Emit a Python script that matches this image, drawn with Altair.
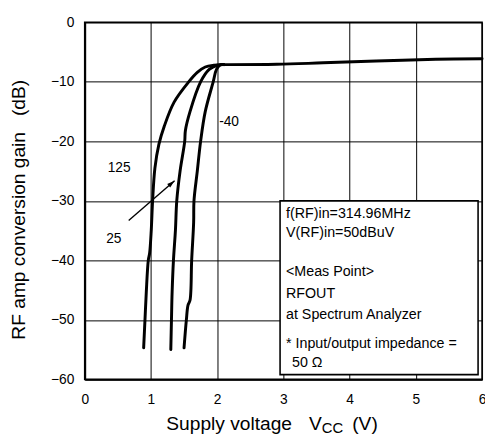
import altair as alt
import pandas as pd

# ---- data ----
x_125 = [0.89, 0.91, 0.93, 0.96, 0.98, 1.005, 1.025, 1.06, 1.12, 1.20, 1.35, 1.57, 1.70, 1.82, 1.95, 2.10]
y_125 = [-54.7, -50, -45.3, -40, -38.8, -34.9, -30, -24.5, -20.5, -17.5, -13.4, -10, -8.4, -7.5, -7.2, -7.1]

x_25 = [1.30, 1.31, 1.32, 1.34, 1.37, 1.39, 1.44, 1.51, 1.52, 1.59, 1.75, 1.88, 2.00, 2.10]
y_25 = [-55, -50, -45.3, -40, -34.9, -30, -25, -20, -18.2, -15, -10, -7.9, -7.2, -7.1]

x_m40 = [1.50, 1.535, 1.56, 1.59, 1.615, 1.645, 1.65, 1.70, 1.75, 1.82, 1.94, 1.99, 2.05, 2.10]
y_m40 = [-54.7, -50, -47.5, -46.7, -40, -33.6, -30, -25, -20, -15, -10, -7.9, -7.1, -7.1]

x_flat = [2.10, 2.90, 3.60, 4.40, 5.30, 6.00]
y_flat = [-7.1, -7.05, -6.8, -6.5, -6.2, -6.1]

curve_labels = ["125", "25", "-40"]
label_x = [0.52, 0.44, 2.18]
label_y = [-24.5, -36.5, -16.7]

arrow_x = [0.664, 1.357]
arrow_y = [-33.3, -26.6]

box_x = [2.95, 5.94]
box_y = [-30.0, -59.2]

note_lines = ["f(RF)in=314.96MHz", "V(RF)in=50dBuV", "<Meas Point>", "RFOUT",
              "at Spectrum Analyzer", "* Input/output impedance =", "50 \u03a9"]
note_x = [3.04, 3.04, 3.04, 3.04, 3.04, 3.04, 3.13]
note_y = [-32.8, -36.0, -42.7, -46.3, -49.9, -54.7, -57.9]

x_ticks = [0, 1, 2, 3, 4, 5, 6]
y_ticks = [0, -10, -20, -30, -40, -50, -60]

FONT = "Liberation Sans"
NB = "\u00a0"

rows = []
for name, xs_, ys_ in [("125", x_125, y_125), ("25", x_25, y_25), ("-40", x_m40, y_m40), ("flat", x_flat, y_flat)]:
    for i, (a, b) in enumerate(zip(xs_, ys_)):
        rows.append({"curve": name, "v": a, "g": b, "i": i})
curves_df = pd.DataFrame(rows)

xs = alt.Scale(domain=[0, 6], nice=False, zero=False)
ys = alt.Scale(domain=[-60, 0], nice=False, zero=False)

x_axis = alt.Axis(values=x_ticks, format="d", title=None, ticks=False, labelPadding=14, labelFontSize=14,
                  labelFont=FONT, labelColor="black", grid=True, gridColor="#000", gridWidth=1,
                  domainColor="black", domainWidth=2, labelFlush=False)
y_axis = alt.Axis(values=y_ticks, format="d", title="RF amp conversion gain" + NB * 3 + "(dB)", ticks=False,
                  labelPadding=11, labelFontSize=14, labelFont=FONT, labelColor="black", grid=True,
                  gridColor="#000", gridWidth=1, domainColor="black", domainWidth=2, labelFlush=False,
                  titleFont=FONT, titleFontSize=19.5, titleFontWeight="normal", titleColor="black",
                  titleX=-61, titleY=190, titleAngle=-90, titleAlign="center", titleBaseline="alphabetic")

lines = alt.Chart(curves_df).mark_line(color="black", strokeWidth=3, strokeCap="round",
                                       strokeJoin="round", interpolate="catmull-rom").encode(
    x=alt.X("v:Q", scale=xs, axis=x_axis),
    y=alt.Y("g:Q", scale=ys, axis=y_axis),
    detail="curve:N",
    order="i:Q",
)

box_df = pd.DataFrame({"x1": [box_x[0]], "x2": [box_x[1]], "y1": [box_y[0]], "y2": [box_y[1]]})
box = alt.Chart(box_df).mark_rect(fill="white", stroke="black", strokeWidth=1.6).encode(
    x=alt.X("x1:Q", scale=xs), x2="x2:Q", y=alt.Y("y1:Q", scale=ys), y2="y2:Q")

notes_df = pd.DataFrame({"t": note_lines, "x": note_x, "y": note_y})
notes = alt.Chart(notes_df).mark_text(align="left", baseline="alphabetic", font=FONT, fontSize=14.5,
                                      color="black").encode(
    x=alt.X("x:Q", scale=xs), y=alt.Y("y:Q", scale=ys), text="t:N")

lab_df = pd.DataFrame({"t": curve_labels, "x": label_x, "y": label_y})
labels = alt.Chart(lab_df).mark_text(align="center", baseline="middle", font=FONT, fontSize=14,
                                     color="black").encode(
    x=alt.X("x:Q", scale=xs), y=alt.Y("y:Q", scale=ys), text="t:N")

arrow_df = pd.DataFrame({"x": arrow_x, "y": arrow_y, "i": [0, 1]})
arrow_line = alt.Chart(arrow_df).mark_line(color="black", strokeWidth=1.4).encode(
    x=alt.X("x:Q", scale=xs), y=alt.Y("y:Q", scale=ys), order="i:Q")
head_df = pd.DataFrame({"x": [arrow_x[1]], "y": [arrow_y[1]]})
arrow_head = alt.Chart(head_df).mark_point(shape="M0,0L-0.55,1.9L0.55,1.9Z", filled=True, color="black",
                                           size=70, angle=48.8, opacity=1).encode(
    x=alt.X("x:Q", scale=xs), y=alt.Y("y:Q", scale=ys))

title_df = pd.DataFrame({
    "t": ["Supply voltage", "V", "CC", "(V)"],
    "px": [83, 228, 241, 272],
    "py": [414, 414, 418, 414],
    "fs": [19.5, 19.5, 15, 19.5],
})
xtitle = alt.Chart(title_df).mark_text(align="left", baseline="alphabetic", font=FONT,
                                       color="black").encode(
    x=alt.X("px:Q", scale=None), y=alt.Y("py:Q", scale=None), text="t:N",
    size=alt.Size("fs:Q", scale=None, legend=None))

chart = alt.layer(lines, box, notes, labels, arrow_line, arrow_head, xtitle).properties(
    width=404, height=363,
    autosize=alt.AutoSizeParams(type="none"),
    padding={"left": 78, "top": 11, "right": 3, "bottom": 58},
    background="white",
).configure_view(stroke="black", strokeWidth=1.6).configure_text(font=FONT)

chart.save("out.html", embed_options={"renderer": "svg", "actions": False})
